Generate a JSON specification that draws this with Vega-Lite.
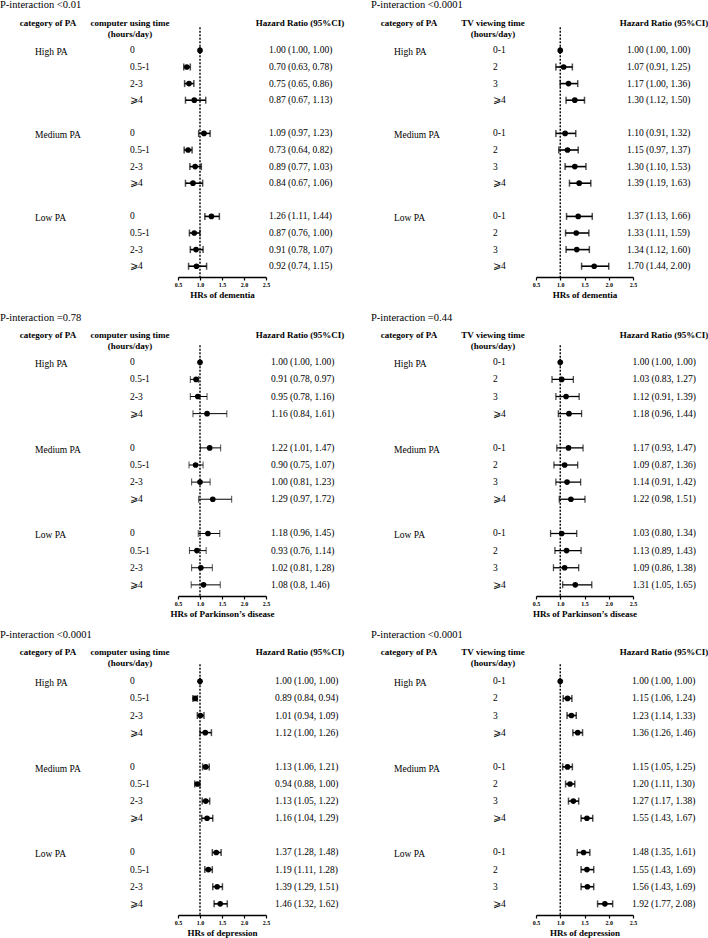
{
"$schema": "https://vega.github.io/schema/vega-lite/v6.json",
"padding": 0,
"background": "white",
"config": {
 "view": {"stroke": null},
 "font": "Liberation Serif",
 "text": {"font": "Liberation Serif", "color": "black", "fontSize": 9.5},
 "title": {"font": "Liberation Serif", "fontSize": 10.5, "fontWeight": "normal", "color": "black", "anchor": "start"},
 "axis": {"labelOverlap": false},
 "axisX": {"grid": false, "domainColor": "black", "domainWidth": 1.4, "tickColor": "black", "tickWidth": 1.2, "tickSize": 3, "labelFont": "Liberation Serif", "labelFontSize": 6, "labelFontWeight": "bold", "labelColor": "black", "labelPadding": 1.5, "labelFlush": false, "labelOverlap": false, "labelSeparation": -20, "titleFont": "Liberation Serif", "titleFontSize": 9, "titleFontWeight": "bold", "titleColor": "black", "titlePadding": 3}
},
"datasets": {"d": [
{"o":"dem","e":"pc","pa":"High PA","t":"0","hr":1.00,"lo":1.00,"hi":1.00,"ci":"1.00 (1.00, 1.00)"},
{"o":"dem","e":"pc","pa":"High PA","t":"0.5-1","hr":0.70,"lo":0.63,"hi":0.78,"ci":"0.70 (0.63, 0.78)"},
{"o":"dem","e":"pc","pa":"High PA","t":"2-3","hr":0.75,"lo":0.65,"hi":0.86,"ci":"0.75 (0.65, 0.86)"},
{"o":"dem","e":"pc","pa":"High PA","t":"⩾4","hr":0.87,"lo":0.67,"hi":1.13,"ci":"0.87 (0.67, 1.13)"},
{"o":"dem","e":"pc","pa":"Medium PA","t":"0","hr":1.09,"lo":0.97,"hi":1.23,"ci":"1.09 (0.97, 1.23)"},
{"o":"dem","e":"pc","pa":"Medium PA","t":"0.5-1","hr":0.73,"lo":0.64,"hi":0.82,"ci":"0.73 (0.64, 0.82)"},
{"o":"dem","e":"pc","pa":"Medium PA","t":"2-3","hr":0.89,"lo":0.77,"hi":1.03,"ci":"0.89 (0.77, 1.03)"},
{"o":"dem","e":"pc","pa":"Medium PA","t":"⩾4","hr":0.84,"lo":0.67,"hi":1.06,"ci":"0.84 (0.67, 1.06)"},
{"o":"dem","e":"pc","pa":"Low PA","t":"0","hr":1.26,"lo":1.11,"hi":1.44,"ci":"1.26 (1.11, 1.44)"},
{"o":"dem","e":"pc","pa":"Low PA","t":"0.5-1","hr":0.87,"lo":0.76,"hi":1.00,"ci":"0.87 (0.76, 1.00)"},
{"o":"dem","e":"pc","pa":"Low PA","t":"2-3","hr":0.91,"lo":0.78,"hi":1.07,"ci":"0.91 (0.78, 1.07)"},
{"o":"dem","e":"pc","pa":"Low PA","t":"⩾4","hr":0.92,"lo":0.74,"hi":1.15,"ci":"0.92 (0.74, 1.15)"},
{"o":"dem","e":"tv","pa":"High PA","t":"0-1","hr":1.00,"lo":1.00,"hi":1.00,"ci":"1.00 (1.00, 1.00)"},
{"o":"dem","e":"tv","pa":"High PA","t":"2","hr":1.07,"lo":0.91,"hi":1.25,"ci":"1.07 (0.91, 1.25)"},
{"o":"dem","e":"tv","pa":"High PA","t":"3","hr":1.17,"lo":1.00,"hi":1.36,"ci":"1.17 (1.00, 1.36)"},
{"o":"dem","e":"tv","pa":"High PA","t":"⩾4","hr":1.30,"lo":1.12,"hi":1.50,"ci":"1.30 (1.12, 1.50)"},
{"o":"dem","e":"tv","pa":"Medium PA","t":"0-1","hr":1.10,"lo":0.91,"hi":1.32,"ci":"1.10 (0.91, 1.32)"},
{"o":"dem","e":"tv","pa":"Medium PA","t":"2","hr":1.15,"lo":0.97,"hi":1.37,"ci":"1.15 (0.97, 1.37)"},
{"o":"dem","e":"tv","pa":"Medium PA","t":"3","hr":1.30,"lo":1.10,"hi":1.53,"ci":"1.30 (1.10, 1.53)"},
{"o":"dem","e":"tv","pa":"Medium PA","t":"⩾4","hr":1.39,"lo":1.19,"hi":1.63,"ci":"1.39 (1.19, 1.63)"},
{"o":"dem","e":"tv","pa":"Low PA","t":"0-1","hr":1.37,"lo":1.13,"hi":1.66,"ci":"1.37 (1.13, 1.66)"},
{"o":"dem","e":"tv","pa":"Low PA","t":"2","hr":1.33,"lo":1.11,"hi":1.59,"ci":"1.33 (1.11, 1.59)"},
{"o":"dem","e":"tv","pa":"Low PA","t":"3","hr":1.34,"lo":1.12,"hi":1.60,"ci":"1.34 (1.12, 1.60)"},
{"o":"dem","e":"tv","pa":"Low PA","t":"⩾4","hr":1.70,"lo":1.44,"hi":2.00,"ci":"1.70 (1.44, 2.00)"},
{"o":"pd","e":"pc","pa":"High PA","t":"0","hr":1.00,"lo":1.00,"hi":1.00,"ci":"1.00 (1.00, 1.00)"},
{"o":"pd","e":"pc","pa":"High PA","t":"0.5-1","hr":0.91,"lo":0.78,"hi":0.97,"ci":"0.91 (0.78, 0.97)"},
{"o":"pd","e":"pc","pa":"High PA","t":"2-3","hr":0.95,"lo":0.78,"hi":1.16,"ci":"0.95 (0.78, 1.16)"},
{"o":"pd","e":"pc","pa":"High PA","t":"⩾4","hr":1.16,"lo":0.84,"hi":1.61,"ci":"1.16 (0.84, 1.61)"},
{"o":"pd","e":"pc","pa":"Medium PA","t":"0","hr":1.22,"lo":1.01,"hi":1.47,"ci":"1.22 (1.01, 1.47)"},
{"o":"pd","e":"pc","pa":"Medium PA","t":"0.5-1","hr":0.90,"lo":0.75,"hi":1.07,"ci":"0.90 (0.75, 1.07)"},
{"o":"pd","e":"pc","pa":"Medium PA","t":"2-3","hr":1.00,"lo":0.81,"hi":1.23,"ci":"1.00 (0.81, 1.23)"},
{"o":"pd","e":"pc","pa":"Medium PA","t":"⩾4","hr":1.29,"lo":0.97,"hi":1.72,"ci":"1.29 (0.97, 1.72)"},
{"o":"pd","e":"pc","pa":"Low PA","t":"0","hr":1.18,"lo":0.96,"hi":1.45,"ci":"1.18 (0.96, 1.45)"},
{"o":"pd","e":"pc","pa":"Low PA","t":"0.5-1","hr":0.93,"lo":0.76,"hi":1.14,"ci":"0.93 (0.76, 1.14)"},
{"o":"pd","e":"pc","pa":"Low PA","t":"2-3","hr":1.02,"lo":0.81,"hi":1.28,"ci":"1.02 (0.81, 1.28)"},
{"o":"pd","e":"pc","pa":"Low PA","t":"⩾4","hr":1.08,"lo":0.80,"hi":1.46,"ci":"1.08 (0.8, 1.46)"},
{"o":"pd","e":"tv","pa":"High PA","t":"0-1","hr":1.00,"lo":1.00,"hi":1.00,"ci":"1.00 (1.00, 1.00)"},
{"o":"pd","e":"tv","pa":"High PA","t":"2","hr":1.03,"lo":0.83,"hi":1.27,"ci":"1.03 (0.83, 1.27)"},
{"o":"pd","e":"tv","pa":"High PA","t":"3","hr":1.12,"lo":0.91,"hi":1.39,"ci":"1.12 (0.91, 1.39)"},
{"o":"pd","e":"tv","pa":"High PA","t":"⩾4","hr":1.18,"lo":0.96,"hi":1.44,"ci":"1.18 (0.96, 1.44)"},
{"o":"pd","e":"tv","pa":"Medium PA","t":"0-1","hr":1.17,"lo":0.93,"hi":1.47,"ci":"1.17 (0.93, 1.47)"},
{"o":"pd","e":"tv","pa":"Medium PA","t":"2","hr":1.09,"lo":0.87,"hi":1.36,"ci":"1.09 (0.87, 1.36)"},
{"o":"pd","e":"tv","pa":"Medium PA","t":"3","hr":1.14,"lo":0.91,"hi":1.42,"ci":"1.14 (0.91, 1.42)"},
{"o":"pd","e":"tv","pa":"Medium PA","t":"⩾4","hr":1.22,"lo":0.98,"hi":1.51,"ci":"1.22 (0.98, 1.51)"},
{"o":"pd","e":"tv","pa":"Low PA","t":"0-1","hr":1.03,"lo":0.80,"hi":1.34,"ci":"1.03 (0.80, 1.34)"},
{"o":"pd","e":"tv","pa":"Low PA","t":"2","hr":1.13,"lo":0.89,"hi":1.43,"ci":"1.13 (0.89, 1.43)"},
{"o":"pd","e":"tv","pa":"Low PA","t":"3","hr":1.09,"lo":0.86,"hi":1.38,"ci":"1.09 (0.86, 1.38)"},
{"o":"pd","e":"tv","pa":"Low PA","t":"⩾4","hr":1.31,"lo":1.05,"hi":1.65,"ci":"1.31 (1.05, 1.65)"},
{"o":"dep","e":"pc","pa":"High PA","t":"0","hr":1.00,"lo":1.00,"hi":1.00,"ci":"1.00 (1.00, 1.00)"},
{"o":"dep","e":"pc","pa":"High PA","t":"0.5-1","hr":0.89,"lo":0.84,"hi":0.94,"ci":"0.89 (0.84, 0.94)"},
{"o":"dep","e":"pc","pa":"High PA","t":"2-3","hr":1.01,"lo":0.94,"hi":1.09,"ci":"1.01 (0.94, 1.09)"},
{"o":"dep","e":"pc","pa":"High PA","t":"⩾4","hr":1.12,"lo":1.00,"hi":1.26,"ci":"1.12 (1.00, 1.26)"},
{"o":"dep","e":"pc","pa":"Medium PA","t":"0","hr":1.13,"lo":1.06,"hi":1.21,"ci":"1.13 (1.06, 1.21)"},
{"o":"dep","e":"pc","pa":"Medium PA","t":"0.5-1","hr":0.94,"lo":0.88,"hi":1.00,"ci":"0.94 (0.88, 1.00)"},
{"o":"dep","e":"pc","pa":"Medium PA","t":"2-3","hr":1.13,"lo":1.05,"hi":1.22,"ci":"1.13 (1.05, 1.22)"},
{"o":"dep","e":"pc","pa":"Medium PA","t":"⩾4","hr":1.16,"lo":1.04,"hi":1.29,"ci":"1.16 (1.04, 1.29)"},
{"o":"dep","e":"pc","pa":"Low PA","t":"0","hr":1.37,"lo":1.28,"hi":1.48,"ci":"1.37 (1.28, 1.48)"},
{"o":"dep","e":"pc","pa":"Low PA","t":"0.5-1","hr":1.19,"lo":1.11,"hi":1.28,"ci":"1.19 (1.11, 1.28)"},
{"o":"dep","e":"pc","pa":"Low PA","t":"2-3","hr":1.39,"lo":1.29,"hi":1.51,"ci":"1.39 (1.29, 1.51)"},
{"o":"dep","e":"pc","pa":"Low PA","t":"⩾4","hr":1.46,"lo":1.32,"hi":1.62,"ci":"1.46 (1.32, 1.62)"},
{"o":"dep","e":"tv","pa":"High PA","t":"0-1","hr":1.00,"lo":1.00,"hi":1.00,"ci":"1.00 (1.00, 1.00)"},
{"o":"dep","e":"tv","pa":"High PA","t":"2","hr":1.15,"lo":1.06,"hi":1.24,"ci":"1.15 (1.06, 1.24)"},
{"o":"dep","e":"tv","pa":"High PA","t":"3","hr":1.23,"lo":1.14,"hi":1.33,"ci":"1.23 (1.14, 1.33)"},
{"o":"dep","e":"tv","pa":"High PA","t":"⩾4","hr":1.36,"lo":1.26,"hi":1.46,"ci":"1.36 (1.26, 1.46)"},
{"o":"dep","e":"tv","pa":"Medium PA","t":"0-1","hr":1.15,"lo":1.05,"hi":1.25,"ci":"1.15 (1.05, 1.25)"},
{"o":"dep","e":"tv","pa":"Medium PA","t":"2","hr":1.20,"lo":1.11,"hi":1.30,"ci":"1.20 (1.11, 1.30)"},
{"o":"dep","e":"tv","pa":"Medium PA","t":"3","hr":1.27,"lo":1.17,"hi":1.38,"ci":"1.27 (1.17, 1.38)"},
{"o":"dep","e":"tv","pa":"Medium PA","t":"⩾4","hr":1.55,"lo":1.43,"hi":1.67,"ci":"1.55 (1.43, 1.67)"},
{"o":"dep","e":"tv","pa":"Low PA","t":"0-1","hr":1.48,"lo":1.35,"hi":1.61,"ci":"1.48 (1.35, 1.61)"},
{"o":"dep","e":"tv","pa":"Low PA","t":"2","hr":1.55,"lo":1.43,"hi":1.69,"ci":"1.55 (1.43, 1.69)"},
{"o":"dep","e":"tv","pa":"Low PA","t":"3","hr":1.56,"lo":1.43,"hi":1.69,"ci":"1.56 (1.43, 1.69)"},
{"o":"dep","e":"tv","pa":"Low PA","t":"⩾4","hr":1.92,"lo":1.77,"hi":2.08,"ci":"1.92 (1.77, 2.08)"}
]},
"columns": 8,
"spacing": {"row": 57, "column": 0},
"bounds": "flush",
"align": "each",
"concat": [
{"width":96,"height":254,"title":{"text":"P-interaction <0.01","offset":8,"dx":0},"data":{"name":"d"},
 "transform":[{"filter":"datum.o=='dem'&&datum.e=='pc'&&datum.t=='0'"},{"calculate":"datum.pa+'|'+datum.t","as":"key"}],
 "encoding":{"y":{"field":"key","type":"nominal","axis":null,"scale":{"type":"band","domain":["hdr","High PA|0","High PA|0.5-1","High PA|2-3","High PA|⩾4","g1","Medium PA|0","Medium PA|0.5-1","Medium PA|2-3","Medium PA|⩾4","g2","Low PA|0","Low PA|0.5-1","Low PA|2-3","Low PA|⩾4"],"paddingInner":0,"paddingOuter":0.15}}},
 "layer":[
  {"data":{"values":[{"h":"category of PA"}]},"mark":{"type":"text","fontWeight":"bold","fontSize":9,"baseline":"top","lineHeight":11,"lineBreak":"\n","dy":-15},"encoding":{"y":{"datum":"hdr"},"text":{"field":"h"}}},
  {"mark":{"type":"text","align":"left","dx":-13,"dy":2},"encoding":{"text":{"field":"pa"}}}
 ]},
{"width":82,"height":254,"data":{"name":"d"},
 "transform":[{"filter":"datum.o=='dem'&&datum.e=='pc'"},{"calculate":"datum.pa+'|'+datum.t","as":"key"}],
 "encoding":{"y":{"field":"key","type":"nominal","axis":null,"scale":{"type":"band","domain":["hdr","High PA|0","High PA|0.5-1","High PA|2-3","High PA|⩾4","g1","Medium PA|0","Medium PA|0.5-1","Medium PA|2-3","Medium PA|⩾4","g2","Low PA|0","Low PA|0.5-1","Low PA|2-3","Low PA|⩾4"],"paddingInner":0,"paddingOuter":0.15}}},
 "layer":[
  {"data":{"values":[{"h":"computer using time\n(hours/day)"}]},"mark":{"type":"text","fontWeight":"bold","fontSize":9,"baseline":"top","lineHeight":11,"lineBreak":"\n","dy":-15,"dx":-7},"encoding":{"y":{"datum":"hdr"},"text":{"field":"h"}}},
  {"mark":{"type":"text","align":"left","dx":-7},"encoding":{"text":{"field":"t"}}}
 ]},
{"width":88,"height":254,"data":{"name":"d"},
 "transform":[{"filter":"datum.o=='dem'&&datum.e=='pc'"},{"calculate":"datum.pa+'|'+datum.t","as":"key"}],
 "encoding":{"y":{"field":"key","type":"nominal","axis":null,"scale":{"type":"band","domain":["hdr","High PA|0","High PA|0.5-1","High PA|2-3","High PA|⩾4","g1","Medium PA|0","Medium PA|0.5-1","Medium PA|2-3","Medium PA|⩾4","g2","Low PA|0","Low PA|0.5-1","Low PA|2-3","Low PA|⩾4"],"paddingInner":0,"paddingOuter":0.15}}},
 "layer":[
  {"mark":{"type":"rule","strokeWidth":1.6,"color":"black"},"encoding":{"x":{"field":"lo","type":"quantitative","scale":{"domain":[0.5,2.5],"nice":false,"zero":false},"axis":{"values":[0.5,1,1.5,2,2.5],"format":".1f","labelOverlap":false,"labelBound":false,"title":"HRs of dementia"}},"x2":{"field":"hi"}}},
  {"data":{"values":[{"v":1}]},"mark":{"type":"rule","strokeDash":[2,1.5],"strokeWidth":1.4,"color":"black"},"encoding":{"x":{"field":"v","type":"quantitative","scale":{"domain":[0.5,2.5],"nice":false,"zero":false},"axis":{"values":[0.5,1,1.5,2,2.5],"format":".1f","labelOverlap":false,"labelBound":false,"title":"HRs of dementia"}},"y":{"datum":"hdr","bandPosition":0.1},"y2":{"value":"height"}}},
  {"mark":{"type":"tick","thickness":1.5,"size":7,"color":"black"},"encoding":{"x":{"field":"lo","type":"quantitative","scale":{"domain":[0.5,2.5],"nice":false,"zero":false},"axis":{"values":[0.5,1,1.5,2,2.5],"format":".1f","labelOverlap":false,"labelBound":false,"title":"HRs of dementia"}}}},
  {"mark":{"type":"tick","thickness":1.5,"size":7,"color":"black"},"encoding":{"x":{"field":"hi","type":"quantitative","scale":{"domain":[0.5,2.5],"nice":false,"zero":false},"axis":{"values":[0.5,1,1.5,2,2.5],"format":".1f","labelOverlap":false,"labelBound":false,"title":"HRs of dementia"}}}},
  {"mark":{"type":"point","filled":true,"size":32,"opacity":1,"color":"black"},"encoding":{"x":{"field":"hr","type":"quantitative","scale":{"domain":[0.5,2.5],"nice":false,"zero":false},"axis":{"values":[0.5,1,1.5,2,2.5],"format":".1f","labelOverlap":false,"labelBound":false,"title":"HRs of dementia"}}}}
 ]},
{"width":88,"height":254,"data":{"name":"d"},
 "transform":[{"filter":"datum.o=='dem'&&datum.e=='pc'"},{"calculate":"datum.pa+'|'+datum.t","as":"key"}],
 "encoding":{"y":{"field":"key","type":"nominal","axis":null,"scale":{"type":"band","domain":["hdr","High PA|0","High PA|0.5-1","High PA|2-3","High PA|⩾4","g1","Medium PA|0","Medium PA|0.5-1","Medium PA|2-3","Medium PA|⩾4","g2","Low PA|0","Low PA|0.5-1","Low PA|2-3","Low PA|⩾4"],"paddingInner":0,"paddingOuter":0.15}}},
 "layer":[
  {"data":{"values":[{"h":"Hazard Ratio (95%CI)"}]},"mark":{"type":"text","fontWeight":"bold","fontSize":9,"baseline":"top","lineHeight":11,"lineBreak":"\n","dy":-15,"dx":-10},"encoding":{"y":{"datum":"hdr"},"text":{"field":"h"}}},
  {"mark":{"type":"text","align":"left","dx":-41},"encoding":{"text":{"field":"ci"}}}
 ]},
{"width":106,"height":254,"title":{"text":"P-interaction <0.0001","offset":8,"dx":17},"data":{"name":"d"},
 "transform":[{"filter":"datum.o=='dem'&&datum.e=='tv'&&datum.t=='0-1'"},{"calculate":"datum.pa+'|'+datum.t","as":"key"}],
 "encoding":{"y":{"field":"key","type":"nominal","axis":null,"scale":{"type":"band","domain":["hdr","High PA|0-1","High PA|2","High PA|3","High PA|⩾4","g1","Medium PA|0-1","Medium PA|2","Medium PA|3","Medium PA|⩾4","g2","Low PA|0-1","Low PA|2","Low PA|3","Low PA|⩾4"],"paddingInner":0,"paddingOuter":0.15}}},
 "layer":[
  {"data":{"values":[{"h":"category of PA"}]},"mark":{"type":"text","fontWeight":"bold","fontSize":9,"baseline":"top","lineHeight":11,"lineBreak":"\n","dy":-15,"dx":2},"encoding":{"y":{"datum":"hdr"},"text":{"field":"h"}}},
  {"mark":{"type":"text","align":"left","dx":-13,"dy":2},"encoding":{"text":{"field":"pa"}}}
 ]},
{"width":76,"height":254,"data":{"name":"d"},
 "transform":[{"filter":"datum.o=='dem'&&datum.e=='tv'"},{"calculate":"datum.pa+'|'+datum.t","as":"key"}],
 "encoding":{"y":{"field":"key","type":"nominal","axis":null,"scale":{"type":"band","domain":["hdr","High PA|0-1","High PA|2","High PA|3","High PA|⩾4","g1","Medium PA|0-1","Medium PA|2","Medium PA|3","Medium PA|⩾4","g2","Low PA|0-1","Low PA|2","Low PA|3","Low PA|⩾4"],"paddingInner":0,"paddingOuter":0.15}}},
 "layer":[
  {"data":{"values":[{"h":"TV viewing time\n(hours/day)"}]},"mark":{"type":"text","fontWeight":"bold","fontSize":9,"baseline":"top","lineHeight":11,"lineBreak":"\n","dy":-15,"dx":-5},"encoding":{"y":{"datum":"hdr"},"text":{"field":"h"}}},
  {"mark":{"type":"text","align":"left","dx":-5},"encoding":{"text":{"field":"t"}}}
 ]},
{"width":97,"height":254,"data":{"name":"d"},
 "transform":[{"filter":"datum.o=='dem'&&datum.e=='tv'"},{"calculate":"datum.pa+'|'+datum.t","as":"key"}],
 "encoding":{"y":{"field":"key","type":"nominal","axis":null,"scale":{"type":"band","domain":["hdr","High PA|0-1","High PA|2","High PA|3","High PA|⩾4","g1","Medium PA|0-1","Medium PA|2","Medium PA|3","Medium PA|⩾4","g2","Low PA|0-1","Low PA|2","Low PA|3","Low PA|⩾4"],"paddingInner":0,"paddingOuter":0.15}}},
 "layer":[
  {"mark":{"type":"rule","strokeWidth":1.6,"color":"black"},"encoding":{"x":{"field":"lo","type":"quantitative","scale":{"domain":[0.5,2.5],"nice":false,"zero":false},"axis":{"values":[0.5,1,1.5,2,2.5],"format":".1f","labelOverlap":false,"labelBound":false,"title":"HRs of dementia"}},"x2":{"field":"hi"}}},
  {"data":{"values":[{"v":1}]},"mark":{"type":"rule","strokeDash":[2,1.5],"strokeWidth":1.4,"color":"black"},"encoding":{"x":{"field":"v","type":"quantitative","scale":{"domain":[0.5,2.5],"nice":false,"zero":false},"axis":{"values":[0.5,1,1.5,2,2.5],"format":".1f","labelOverlap":false,"labelBound":false,"title":"HRs of dementia"}},"y":{"datum":"hdr","bandPosition":0.1},"y2":{"value":"height"}}},
  {"mark":{"type":"tick","thickness":1.5,"size":7,"color":"black"},"encoding":{"x":{"field":"lo","type":"quantitative","scale":{"domain":[0.5,2.5],"nice":false,"zero":false},"axis":{"values":[0.5,1,1.5,2,2.5],"format":".1f","labelOverlap":false,"labelBound":false,"title":"HRs of dementia"}}}},
  {"mark":{"type":"tick","thickness":1.5,"size":7,"color":"black"},"encoding":{"x":{"field":"hi","type":"quantitative","scale":{"domain":[0.5,2.5],"nice":false,"zero":false},"axis":{"values":[0.5,1,1.5,2,2.5],"format":".1f","labelOverlap":false,"labelBound":false,"title":"HRs of dementia"}}}},
  {"mark":{"type":"point","filled":true,"size":32,"opacity":1,"color":"black"},"encoding":{"x":{"field":"hr","type":"quantitative","scale":{"domain":[0.5,2.5],"nice":false,"zero":false},"axis":{"values":[0.5,1,1.5,2,2.5],"format":".1f","labelOverlap":false,"labelBound":false,"title":"HRs of dementia"}}}}
 ]},
{"width":75,"height":254,"data":{"name":"d"},
 "transform":[{"filter":"datum.o=='dem'&&datum.e=='tv'"},{"calculate":"datum.pa+'|'+datum.t","as":"key"}],
 "encoding":{"y":{"field":"key","type":"nominal","axis":null,"scale":{"type":"band","domain":["hdr","High PA|0-1","High PA|2","High PA|3","High PA|⩾4","g1","Medium PA|0-1","Medium PA|2","Medium PA|3","Medium PA|⩾4","g2","Low PA|0-1","Low PA|2","Low PA|3","Low PA|⩾4"],"paddingInner":0,"paddingOuter":0.15}}},
 "layer":[
  {"data":{"values":[{"h":"Hazard Ratio (95%CI)"}]},"mark":{"type":"text","fontWeight":"bold","fontSize":9,"baseline":"top","lineHeight":11,"lineBreak":"\n","dy":-15,"dx":-6.5},"encoding":{"y":{"datum":"hdr"},"text":{"field":"h"}}},
  {"mark":{"type":"text","align":"left","dx":-43.5},"encoding":{"text":{"field":"ci"}}}
 ]},

{"width":96,"height":262,"title":{"text":"P-interaction =0.78","offset":8,"dx":0},"data":{"name":"d"},
 "transform":[{"filter":"datum.o=='pd'&&datum.e=='pc'&&datum.t=='0'"},{"calculate":"datum.pa+'|'+datum.t","as":"key"}],
 "encoding":{"y":{"field":"key","type":"nominal","axis":null,"scale":{"type":"band","domain":["hdr","High PA|0","High PA|0.5-1","High PA|2-3","High PA|⩾4","g1","Medium PA|0","Medium PA|0.5-1","Medium PA|2-3","Medium PA|⩾4","g2","Low PA|0","Low PA|0.5-1","Low PA|2-3","Low PA|⩾4"],"paddingInner":0,"paddingOuter":0.15}}},
 "layer":[
  {"data":{"values":[{"h":"category of PA"}]},"mark":{"type":"text","fontWeight":"bold","fontSize":9,"baseline":"top","lineHeight":11,"lineBreak":"\n","dy":-14},"encoding":{"y":{"datum":"hdr"},"text":{"field":"h"}}},
  {"mark":{"type":"text","align":"left","dx":-13,"dy":2},"encoding":{"text":{"field":"pa"}}}
 ]},
{"width":82,"height":262,"data":{"name":"d"},
 "transform":[{"filter":"datum.o=='pd'&&datum.e=='pc'"},{"calculate":"datum.pa+'|'+datum.t","as":"key"}],
 "encoding":{"y":{"field":"key","type":"nominal","axis":null,"scale":{"type":"band","domain":["hdr","High PA|0","High PA|0.5-1","High PA|2-3","High PA|⩾4","g1","Medium PA|0","Medium PA|0.5-1","Medium PA|2-3","Medium PA|⩾4","g2","Low PA|0","Low PA|0.5-1","Low PA|2-3","Low PA|⩾4"],"paddingInner":0,"paddingOuter":0.15}}},
 "layer":[
  {"data":{"values":[{"h":"computer using time\n(hours/day)"}]},"mark":{"type":"text","fontWeight":"bold","fontSize":9,"baseline":"top","lineHeight":11,"lineBreak":"\n","dy":-14,"dx":-7},"encoding":{"y":{"datum":"hdr"},"text":{"field":"h"}}},
  {"mark":{"type":"text","align":"left","dx":-7},"encoding":{"text":{"field":"t"}}}
 ]},
{"width":88,"height":262,"data":{"name":"d"},
 "transform":[{"filter":"datum.o=='pd'&&datum.e=='pc'"},{"calculate":"datum.pa+'|'+datum.t","as":"key"}],
 "encoding":{"y":{"field":"key","type":"nominal","axis":null,"scale":{"type":"band","domain":["hdr","High PA|0","High PA|0.5-1","High PA|2-3","High PA|⩾4","g1","Medium PA|0","Medium PA|0.5-1","Medium PA|2-3","Medium PA|⩾4","g2","Low PA|0","Low PA|0.5-1","Low PA|2-3","Low PA|⩾4"],"paddingInner":0,"paddingOuter":0.15}}},
 "layer":[
  {"mark":{"type":"rule","strokeWidth":1,"color":"black"},"encoding":{"x":{"field":"lo","type":"quantitative","scale":{"domain":[0.5,2.5],"nice":false,"zero":false},"axis":{"values":[0.5,1,1.5,2,2.5],"format":".1f","labelOverlap":false,"labelBound":false,"title":"HRs of Parkinson’s disease"}},"x2":{"field":"hi"}}},
  {"data":{"values":[{"v":1}]},"mark":{"type":"rule","strokeDash":[2,1.5],"strokeWidth":1.4,"color":"black"},"encoding":{"x":{"field":"v","type":"quantitative","scale":{"domain":[0.5,2.5],"nice":false,"zero":false},"axis":{"values":[0.5,1,1.5,2,2.5],"format":".1f","labelOverlap":false,"labelBound":false,"title":"HRs of Parkinson’s disease"}},"y":{"datum":"hdr","bandPosition":0.5},"y2":{"value":"height"}}},
  {"mark":{"type":"tick","thickness":1,"size":7,"color":"black"},"encoding":{"x":{"field":"lo","type":"quantitative","scale":{"domain":[0.5,2.5],"nice":false,"zero":false},"axis":{"values":[0.5,1,1.5,2,2.5],"format":".1f","labelOverlap":false,"labelBound":false,"title":"HRs of Parkinson’s disease"}}}},
  {"mark":{"type":"tick","thickness":1,"size":7,"color":"black"},"encoding":{"x":{"field":"hi","type":"quantitative","scale":{"domain":[0.5,2.5],"nice":false,"zero":false},"axis":{"values":[0.5,1,1.5,2,2.5],"format":".1f","labelOverlap":false,"labelBound":false,"title":"HRs of Parkinson’s disease"}}}},
  {"mark":{"type":"point","filled":true,"size":32,"opacity":1,"color":"black"},"encoding":{"x":{"field":"hr","type":"quantitative","scale":{"domain":[0.5,2.5],"nice":false,"zero":false},"axis":{"values":[0.5,1,1.5,2,2.5],"format":".1f","labelOverlap":false,"labelBound":false,"title":"HRs of Parkinson’s disease"}}}}
 ]},
{"width":88,"height":262,"data":{"name":"d"},
 "transform":[{"filter":"datum.o=='pd'&&datum.e=='pc'"},{"calculate":"datum.pa+'|'+datum.t","as":"key"}],
 "encoding":{"y":{"field":"key","type":"nominal","axis":null,"scale":{"type":"band","domain":["hdr","High PA|0","High PA|0.5-1","High PA|2-3","High PA|⩾4","g1","Medium PA|0","Medium PA|0.5-1","Medium PA|2-3","Medium PA|⩾4","g2","Low PA|0","Low PA|0.5-1","Low PA|2-3","Low PA|⩾4"],"paddingInner":0,"paddingOuter":0.15}}},
 "layer":[
  {"data":{"values":[{"h":"Hazard Ratio (95%CI)"}]},"mark":{"type":"text","fontWeight":"bold","fontSize":9,"baseline":"top","lineHeight":11,"lineBreak":"\n","dy":-14,"dx":-10},"encoding":{"y":{"datum":"hdr"},"text":{"field":"h"}}},
  {"mark":{"type":"text","align":"left","dx":-39},"encoding":{"text":{"field":"ci"}}}
 ]},
{"width":106,"height":262,"title":{"text":"P-interaction =0.44","offset":8,"dx":17},"data":{"name":"d"},
 "transform":[{"filter":"datum.o=='pd'&&datum.e=='tv'&&datum.t=='0-1'"},{"calculate":"datum.pa+'|'+datum.t","as":"key"}],
 "encoding":{"y":{"field":"key","type":"nominal","axis":null,"scale":{"type":"band","domain":["hdr","High PA|0-1","High PA|2","High PA|3","High PA|⩾4","g1","Medium PA|0-1","Medium PA|2","Medium PA|3","Medium PA|⩾4","g2","Low PA|0-1","Low PA|2","Low PA|3","Low PA|⩾4"],"paddingInner":0,"paddingOuter":0.15}}},
 "layer":[
  {"data":{"values":[{"h":"category of PA"}]},"mark":{"type":"text","fontWeight":"bold","fontSize":9,"baseline":"top","lineHeight":11,"lineBreak":"\n","dy":-14,"dx":2},"encoding":{"y":{"datum":"hdr"},"text":{"field":"h"}}},
  {"mark":{"type":"text","align":"left","dx":-13,"dy":2},"encoding":{"text":{"field":"pa"}}}
 ]},
{"width":76,"height":262,"data":{"name":"d"},
 "transform":[{"filter":"datum.o=='pd'&&datum.e=='tv'"},{"calculate":"datum.pa+'|'+datum.t","as":"key"}],
 "encoding":{"y":{"field":"key","type":"nominal","axis":null,"scale":{"type":"band","domain":["hdr","High PA|0-1","High PA|2","High PA|3","High PA|⩾4","g1","Medium PA|0-1","Medium PA|2","Medium PA|3","Medium PA|⩾4","g2","Low PA|0-1","Low PA|2","Low PA|3","Low PA|⩾4"],"paddingInner":0,"paddingOuter":0.15}}},
 "layer":[
  {"data":{"values":[{"h":"TV viewing time\n(hours/day)"}]},"mark":{"type":"text","fontWeight":"bold","fontSize":9,"baseline":"top","lineHeight":11,"lineBreak":"\n","dy":-14,"dx":-5},"encoding":{"y":{"datum":"hdr"},"text":{"field":"h"}}},
  {"mark":{"type":"text","align":"left","dx":-5},"encoding":{"text":{"field":"t"}}}
 ]},
{"width":97,"height":262,"data":{"name":"d"},
 "transform":[{"filter":"datum.o=='pd'&&datum.e=='tv'"},{"calculate":"datum.pa+'|'+datum.t","as":"key"}],
 "encoding":{"y":{"field":"key","type":"nominal","axis":null,"scale":{"type":"band","domain":["hdr","High PA|0-1","High PA|2","High PA|3","High PA|⩾4","g1","Medium PA|0-1","Medium PA|2","Medium PA|3","Medium PA|⩾4","g2","Low PA|0-1","Low PA|2","Low PA|3","Low PA|⩾4"],"paddingInner":0,"paddingOuter":0.15}}},
 "layer":[
  {"mark":{"type":"rule","strokeWidth":1.3,"color":"black"},"encoding":{"x":{"field":"lo","type":"quantitative","scale":{"domain":[0.5,2.5],"nice":false,"zero":false},"axis":{"values":[0.5,1,1.5,2,2.5],"format":".1f","labelOverlap":false,"labelBound":false,"title":"HRs of Parkinson’s disease"}},"x2":{"field":"hi"}}},
  {"data":{"values":[{"v":1}]},"mark":{"type":"rule","strokeDash":[2,1.5],"strokeWidth":1.4,"color":"black"},"encoding":{"x":{"field":"v","type":"quantitative","scale":{"domain":[0.5,2.5],"nice":false,"zero":false},"axis":{"values":[0.5,1,1.5,2,2.5],"format":".1f","labelOverlap":false,"labelBound":false,"title":"HRs of Parkinson’s disease"}},"y":{"datum":"hdr","bandPosition":0.5},"y2":{"value":"height"}}},
  {"mark":{"type":"tick","thickness":1.3,"size":7,"color":"black"},"encoding":{"x":{"field":"lo","type":"quantitative","scale":{"domain":[0.5,2.5],"nice":false,"zero":false},"axis":{"values":[0.5,1,1.5,2,2.5],"format":".1f","labelOverlap":false,"labelBound":false,"title":"HRs of Parkinson’s disease"}}}},
  {"mark":{"type":"tick","thickness":1.3,"size":7,"color":"black"},"encoding":{"x":{"field":"hi","type":"quantitative","scale":{"domain":[0.5,2.5],"nice":false,"zero":false},"axis":{"values":[0.5,1,1.5,2,2.5],"format":".1f","labelOverlap":false,"labelBound":false,"title":"HRs of Parkinson’s disease"}}}},
  {"mark":{"type":"point","filled":true,"size":32,"opacity":1,"color":"black"},"encoding":{"x":{"field":"hr","type":"quantitative","scale":{"domain":[0.5,2.5],"nice":false,"zero":false},"axis":{"values":[0.5,1,1.5,2,2.5],"format":".1f","labelOverlap":false,"labelBound":false,"title":"HRs of Parkinson’s disease"}}}}
 ]},
{"width":75,"height":262,"data":{"name":"d"},
 "transform":[{"filter":"datum.o=='pd'&&datum.e=='tv'"},{"calculate":"datum.pa+'|'+datum.t","as":"key"}],
 "encoding":{"y":{"field":"key","type":"nominal","axis":null,"scale":{"type":"band","domain":["hdr","High PA|0-1","High PA|2","High PA|3","High PA|⩾4","g1","Medium PA|0-1","Medium PA|2","Medium PA|3","Medium PA|⩾4","g2","Low PA|0-1","Low PA|2","Low PA|3","Low PA|⩾4"],"paddingInner":0,"paddingOuter":0.15}}},
 "layer":[
  {"data":{"values":[{"h":"Hazard Ratio (95%CI)"}]},"mark":{"type":"text","fontWeight":"bold","fontSize":9,"baseline":"top","lineHeight":11,"lineBreak":"\n","dy":-14,"dx":-6.5},"encoding":{"y":{"datum":"hdr"},"text":{"field":"h"}}},
  {"mark":{"type":"text","align":"left","dx":-38},"encoding":{"text":{"field":"ci"}}}
 ]},

{"width":96,"height":262,"title":{"text":"P-interaction <0.0001","offset":8,"dx":0},"data":{"name":"d"},
 "transform":[{"filter":"datum.o=='dep'&&datum.e=='pc'&&datum.t=='0'"},{"calculate":"datum.pa+'|'+datum.t","as":"key"}],
 "encoding":{"y":{"field":"key","type":"nominal","axis":null,"scale":{"type":"band","domain":["hdr","High PA|0","High PA|0.5-1","High PA|2-3","High PA|⩾4","g1","Medium PA|0","Medium PA|0.5-1","Medium PA|2-3","Medium PA|⩾4","g2","Low PA|0","Low PA|0.5-1","Low PA|2-3","Low PA|⩾4"],"paddingInner":0,"paddingOuter":0.15}}},
 "layer":[
  {"data":{"values":[{"h":"category of PA"}]},"mark":{"type":"text","fontWeight":"bold","fontSize":9,"baseline":"top","lineHeight":11,"lineBreak":"\n","dy":-16},"encoding":{"y":{"datum":"hdr"},"text":{"field":"h"}}},
  {"mark":{"type":"text","align":"left","dx":-13,"dy":2},"encoding":{"text":{"field":"pa"}}}
 ]},
{"width":82,"height":262,"data":{"name":"d"},
 "transform":[{"filter":"datum.o=='dep'&&datum.e=='pc'"},{"calculate":"datum.pa+'|'+datum.t","as":"key"}],
 "encoding":{"y":{"field":"key","type":"nominal","axis":null,"scale":{"type":"band","domain":["hdr","High PA|0","High PA|0.5-1","High PA|2-3","High PA|⩾4","g1","Medium PA|0","Medium PA|0.5-1","Medium PA|2-3","Medium PA|⩾4","g2","Low PA|0","Low PA|0.5-1","Low PA|2-3","Low PA|⩾4"],"paddingInner":0,"paddingOuter":0.15}}},
 "layer":[
  {"data":{"values":[{"h":"computer using time\n(hours/day)"}]},"mark":{"type":"text","fontWeight":"bold","fontSize":9,"baseline":"top","lineHeight":11,"lineBreak":"\n","dy":-16,"dx":-7},"encoding":{"y":{"datum":"hdr"},"text":{"field":"h"}}},
  {"mark":{"type":"text","align":"left","dx":-7},"encoding":{"text":{"field":"t"}}}
 ]},
{"width":88,"height":262,"data":{"name":"d"},
 "transform":[{"filter":"datum.o=='dep'&&datum.e=='pc'"},{"calculate":"datum.pa+'|'+datum.t","as":"key"}],
 "encoding":{"y":{"field":"key","type":"nominal","axis":null,"scale":{"type":"band","domain":["hdr","High PA|0","High PA|0.5-1","High PA|2-3","High PA|⩾4","g1","Medium PA|0","Medium PA|0.5-1","Medium PA|2-3","Medium PA|⩾4","g2","Low PA|0","Low PA|0.5-1","Low PA|2-3","Low PA|⩾4"],"paddingInner":0,"paddingOuter":0.15}}},
 "layer":[
  {"mark":{"type":"rule","strokeWidth":1.6,"color":"black"},"encoding":{"x":{"field":"lo","type":"quantitative","scale":{"domain":[0.5,2.5],"nice":false,"zero":false},"axis":{"values":[0.5,1,1.5,2,2.5],"format":".1f","labelOverlap":false,"labelBound":false,"title":"HRs of depression"}},"x2":{"field":"hi"}}},
  {"data":{"values":[{"v":1}]},"mark":{"type":"rule","strokeDash":[2,1.5],"strokeWidth":1.4,"color":"black"},"encoding":{"x":{"field":"v","type":"quantitative","scale":{"domain":[0.5,2.5],"nice":false,"zero":false},"axis":{"values":[0.5,1,1.5,2,2.5],"format":".1f","labelOverlap":false,"labelBound":false,"title":"HRs of depression"}},"y":{"datum":"hdr","bandPosition":0.5},"y2":{"value":"height"}}},
  {"mark":{"type":"tick","thickness":1.5,"size":7,"color":"black"},"encoding":{"x":{"field":"lo","type":"quantitative","scale":{"domain":[0.5,2.5],"nice":false,"zero":false},"axis":{"values":[0.5,1,1.5,2,2.5],"format":".1f","labelOverlap":false,"labelBound":false,"title":"HRs of depression"}}}},
  {"mark":{"type":"tick","thickness":1.5,"size":7,"color":"black"},"encoding":{"x":{"field":"hi","type":"quantitative","scale":{"domain":[0.5,2.5],"nice":false,"zero":false},"axis":{"values":[0.5,1,1.5,2,2.5],"format":".1f","labelOverlap":false,"labelBound":false,"title":"HRs of depression"}}}},
  {"mark":{"type":"point","filled":true,"size":32,"opacity":1,"color":"black"},"encoding":{"x":{"field":"hr","type":"quantitative","scale":{"domain":[0.5,2.5],"nice":false,"zero":false},"axis":{"values":[0.5,1,1.5,2,2.5],"format":".1f","labelOverlap":false,"labelBound":false,"title":"HRs of depression"}}}}
 ]},
{"width":88,"height":262,"data":{"name":"d"},
 "transform":[{"filter":"datum.o=='dep'&&datum.e=='pc'"},{"calculate":"datum.pa+'|'+datum.t","as":"key"}],
 "encoding":{"y":{"field":"key","type":"nominal","axis":null,"scale":{"type":"band","domain":["hdr","High PA|0","High PA|0.5-1","High PA|2-3","High PA|⩾4","g1","Medium PA|0","Medium PA|0.5-1","Medium PA|2-3","Medium PA|⩾4","g2","Low PA|0","Low PA|0.5-1","Low PA|2-3","Low PA|⩾4"],"paddingInner":0,"paddingOuter":0.15}}},
 "layer":[
  {"data":{"values":[{"h":"Hazard Ratio (95%CI)"}]},"mark":{"type":"text","fontWeight":"bold","fontSize":9,"baseline":"top","lineHeight":11,"lineBreak":"\n","dy":-16,"dx":-10},"encoding":{"y":{"datum":"hdr"},"text":{"field":"h"}}},
  {"mark":{"type":"text","align":"left","dx":-35},"encoding":{"text":{"field":"ci"}}}
 ]},
{"width":106,"height":262,"title":{"text":"P-interaction <0.0001","offset":8,"dx":17},"data":{"name":"d"},
 "transform":[{"filter":"datum.o=='dep'&&datum.e=='tv'&&datum.t=='0-1'"},{"calculate":"datum.pa+'|'+datum.t","as":"key"}],
 "encoding":{"y":{"field":"key","type":"nominal","axis":null,"scale":{"type":"band","domain":["hdr","High PA|0-1","High PA|2","High PA|3","High PA|⩾4","g1","Medium PA|0-1","Medium PA|2","Medium PA|3","Medium PA|⩾4","g2","Low PA|0-1","Low PA|2","Low PA|3","Low PA|⩾4"],"paddingInner":0,"paddingOuter":0.15}}},
 "layer":[
  {"data":{"values":[{"h":"category of PA"}]},"mark":{"type":"text","fontWeight":"bold","fontSize":9,"baseline":"top","lineHeight":11,"lineBreak":"\n","dy":-16,"dx":2},"encoding":{"y":{"datum":"hdr"},"text":{"field":"h"}}},
  {"mark":{"type":"text","align":"left","dx":-13,"dy":2},"encoding":{"text":{"field":"pa"}}}
 ]},
{"width":76,"height":262,"data":{"name":"d"},
 "transform":[{"filter":"datum.o=='dep'&&datum.e=='tv'"},{"calculate":"datum.pa+'|'+datum.t","as":"key"}],
 "encoding":{"y":{"field":"key","type":"nominal","axis":null,"scale":{"type":"band","domain":["hdr","High PA|0-1","High PA|2","High PA|3","High PA|⩾4","g1","Medium PA|0-1","Medium PA|2","Medium PA|3","Medium PA|⩾4","g2","Low PA|0-1","Low PA|2","Low PA|3","Low PA|⩾4"],"paddingInner":0,"paddingOuter":0.15}}},
 "layer":[
  {"data":{"values":[{"h":"TV viewing time\n(hours/day)"}]},"mark":{"type":"text","fontWeight":"bold","fontSize":9,"baseline":"top","lineHeight":11,"lineBreak":"\n","dy":-16,"dx":-5},"encoding":{"y":{"datum":"hdr"},"text":{"field":"h"}}},
  {"mark":{"type":"text","align":"left","dx":-5},"encoding":{"text":{"field":"t"}}}
 ]},
{"width":97,"height":262,"data":{"name":"d"},
 "transform":[{"filter":"datum.o=='dep'&&datum.e=='tv'"},{"calculate":"datum.pa+'|'+datum.t","as":"key"}],
 "encoding":{"y":{"field":"key","type":"nominal","axis":null,"scale":{"type":"band","domain":["hdr","High PA|0-1","High PA|2","High PA|3","High PA|⩾4","g1","Medium PA|0-1","Medium PA|2","Medium PA|3","Medium PA|⩾4","g2","Low PA|0-1","Low PA|2","Low PA|3","Low PA|⩾4"],"paddingInner":0,"paddingOuter":0.15}}},
 "layer":[
  {"mark":{"type":"rule","strokeWidth":1.6,"color":"black"},"encoding":{"x":{"field":"lo","type":"quantitative","scale":{"domain":[0.5,2.5],"nice":false,"zero":false},"axis":{"values":[0.5,1,1.5,2,2.5],"format":".1f","labelOverlap":false,"labelBound":false,"title":"HRs of depression"}},"x2":{"field":"hi"}}},
  {"data":{"values":[{"v":1}]},"mark":{"type":"rule","strokeDash":[2,1.5],"strokeWidth":1.4,"color":"black"},"encoding":{"x":{"field":"v","type":"quantitative","scale":{"domain":[0.5,2.5],"nice":false,"zero":false},"axis":{"values":[0.5,1,1.5,2,2.5],"format":".1f","labelOverlap":false,"labelBound":false,"title":"HRs of depression"}},"y":{"datum":"hdr","bandPosition":0.5},"y2":{"value":"height"}}},
  {"mark":{"type":"tick","thickness":1.5,"size":7,"color":"black"},"encoding":{"x":{"field":"lo","type":"quantitative","scale":{"domain":[0.5,2.5],"nice":false,"zero":false},"axis":{"values":[0.5,1,1.5,2,2.5],"format":".1f","labelOverlap":false,"labelBound":false,"title":"HRs of depression"}}}},
  {"mark":{"type":"tick","thickness":1.5,"size":7,"color":"black"},"encoding":{"x":{"field":"hi","type":"quantitative","scale":{"domain":[0.5,2.5],"nice":false,"zero":false},"axis":{"values":[0.5,1,1.5,2,2.5],"format":".1f","labelOverlap":false,"labelBound":false,"title":"HRs of depression"}}}},
  {"mark":{"type":"point","filled":true,"size":32,"opacity":1,"color":"black"},"encoding":{"x":{"field":"hr","type":"quantitative","scale":{"domain":[0.5,2.5],"nice":false,"zero":false},"axis":{"values":[0.5,1,1.5,2,2.5],"format":".1f","labelOverlap":false,"labelBound":false,"title":"HRs of depression"}}}}
 ]},
{"width":75,"height":262,"data":{"name":"d"},
 "transform":[{"filter":"datum.o=='dep'&&datum.e=='tv'"},{"calculate":"datum.pa+'|'+datum.t","as":"key"}],
 "encoding":{"y":{"field":"key","type":"nominal","axis":null,"scale":{"type":"band","domain":["hdr","High PA|0-1","High PA|2","High PA|3","High PA|⩾4","g1","Medium PA|0-1","Medium PA|2","Medium PA|3","Medium PA|⩾4","g2","Low PA|0-1","Low PA|2","Low PA|3","Low PA|⩾4"],"paddingInner":0,"paddingOuter":0.15}}},
 "layer":[
  {"data":{"values":[{"h":"Hazard Ratio (95%CI)"}]},"mark":{"type":"text","fontWeight":"bold","fontSize":9,"baseline":"top","lineHeight":11,"lineBreak":"\n","dy":-16,"dx":-6.5},"encoding":{"y":{"datum":"hdr"},"text":{"field":"h"}}},
  {"mark":{"type":"text","align":"left","dx":-38.5},"encoding":{"text":{"field":"ci"}}}
 ]}
]
}
